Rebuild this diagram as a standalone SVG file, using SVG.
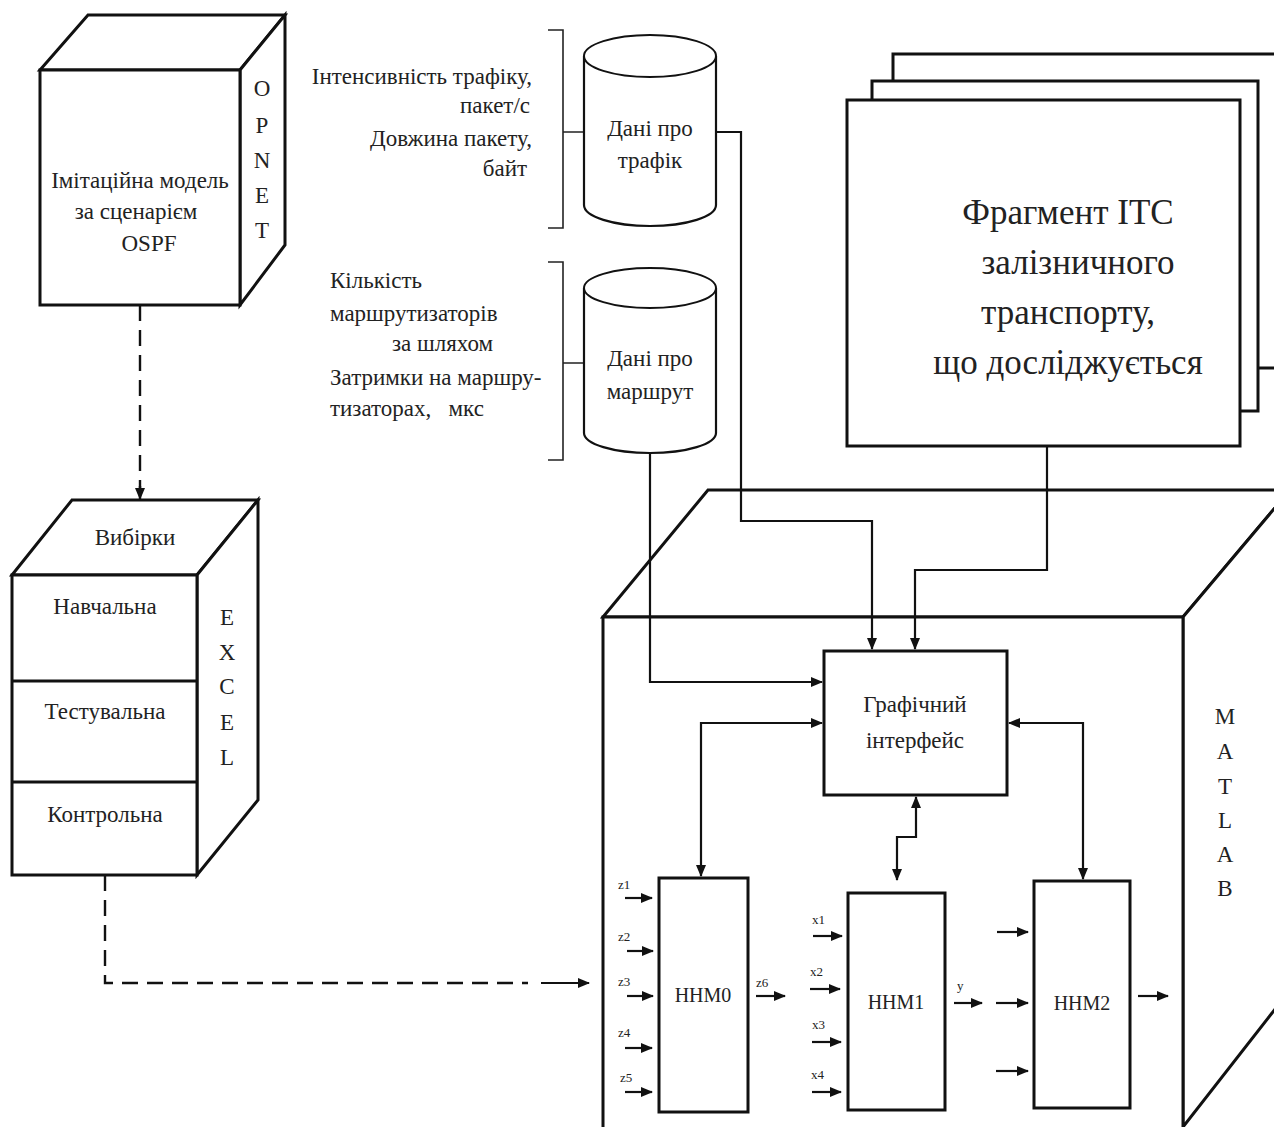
<svg xmlns="http://www.w3.org/2000/svg" width="1274" height="1127" viewBox="0 0 1274 1127">
<defs>
<marker id="ah" markerWidth="12" markerHeight="10" refX="11" refY="5" orient="auto-start-reverse" markerUnits="userSpaceOnUse"><path d="M0,0 L12,5 L0,10 z" fill="#111"/></marker>
</defs>
<style>
.box{fill:#fff;stroke:#111;stroke-width:3}
.thin{fill:none;stroke:#222;stroke-width:1.6}
.ln{fill:none;stroke:#111;stroke-width:2}
.ar{fill:none;stroke:#111;stroke-width:2.2;marker-end:url(#ah)}
.bi{fill:none;stroke:#111;stroke-width:2.2;marker-end:url(#ah);marker-start:url(#ah)}
.dash{fill:none;stroke:#111;stroke-width:2.4;stroke-dasharray:16 9}
text{font-family:"Liberation Serif","Times New Roman",serif;fill:#222}
.t20{font-size:23px}
.t22{font-size:23px}
.nn{font-size:20px}
.t13{font-size:13px}
.big{font-size:35px}
.mid{text-anchor:middle}
.end{text-anchor:end}
</style>
<rect width="1274" height="1127" fill="#fff"/>

<g id="opnet">
<path class="box" d="M40,70 L88,15 L285,15 L240,70 z"/>
<path class="box" d="M240,70 L285,15 L285,245 L240,305 z"/>
<rect class="box" x="40" y="70" width="200" height="235"/>
<text class="t20 mid" x="140" y="188">Імітаційна модель</text>
<text class="t20 mid" x="136" y="219">за сценарієм</text>
<text class="t20 mid" x="149" y="251">OSPF</text>
<text class="t22 mid" x="262" y="96">O</text>
<text class="t22 mid" x="262" y="133">P</text>
<text class="t22 mid" x="262" y="168">N</text>
<text class="t22 mid" x="262" y="203">E</text>
<text class="t22 mid" x="262" y="238">T</text>
</g>

<g id="excel">
<path class="box" d="M12,575 L72,500 L258,500 L197,575 z"/>
<path class="box" d="M197,575 L258,500 L258,800 L197,875 z"/>
<rect class="box" x="12" y="575" width="185" height="300"/>
<line class="box" x1="12" y1="681" x2="197" y2="681"/>
<line class="box" x1="12" y1="782" x2="197" y2="782"/>
<text class="t20 mid" x="135" y="545">Вибірки</text>
<text class="t20 mid" x="105" y="614">Навчальна</text>
<text class="t20 mid" x="105" y="719">Тестувальна</text>
<text class="t20 mid" x="105" y="822">Контрольна</text>
<text class="t22 mid" x="227" y="625">E</text>
<text class="t22 mid" x="227" y="660">X</text>
<text class="t22 mid" x="227" y="694">C</text>
<text class="t22 mid" x="227" y="730">E</text>
<text class="t22 mid" x="227" y="765">L</text>
</g>

<g id="traffic-labels">
<text class="t20 end" x="532" y="84">Інтенсивність трафіку,</text>
<text class="t20 end" x="530" y="113">пакет/с</text>
<text class="t20 end" x="532" y="146">Довжина пакету,</text>
<text class="t20 end" x="527" y="176">байт</text>
<path class="thin" d="M548,30 L563,30 L563,228 L548,228 M563,132 L585,132"/>
</g>

<g id="route-labels">
<text class="t20" x="330" y="288">Кількість</text>
<text class="t20" x="330" y="321">маршрутизаторів</text>
<text class="t20" x="392" y="351">за шляхом</text>
<text class="t20" x="330" y="385">Затримки на маршру-</text>
<text class="t20" x="330" y="416" xml:space="preserve">тизаторах,   мкс</text>
<path class="thin" d="M548,262 L563,262 L563,460 L548,460 M563,363 L585,363"/>
</g>

<g id="cyl-traffic">
<path class="box" style="stroke-width:2.2" d="M584,56 L584,205 A66,21 0 0 0 716,205 L716,56"/>
<ellipse class="box" style="stroke-width:2" cx="650" cy="56" rx="66" ry="21"/>
<text class="t20 mid" x="650" y="136">Дані про</text>
<text class="t20 mid" x="650" y="168">трафік</text>
</g>

<g id="cyl-route">
<path class="box" style="stroke-width:2.2" d="M584,288 L584,433 A66,20 0 0 0 716,433 L716,288"/>
<ellipse class="box" style="stroke-width:2" cx="650" cy="288" rx="66" ry="20"/>
<text class="t20 mid" x="650" y="366">Дані про</text>
<text class="t20 mid" x="650" y="399">маршрут</text>
</g>

<g id="itc">
<rect class="box" x="893" y="54" width="400" height="314"/>
<rect class="box" x="872" y="81" width="386" height="330"/>
<rect class="box" x="847" y="100" width="393" height="346"/>
<text class="big mid" x="1068" y="224">Фрагмент ІТС</text>
<text class="big mid" x="1078" y="274">залізничного</text>
<text class="big mid" x="1068" y="324">транспорту,</text>
<text class="big mid" x="1068" y="374">що досліджується</text>
</g>

<g id="matlab">
<path class="box" d="M603,617 L708,490 L1290,490 L1183,617 z"/>
<path class="box" d="M1183,617 L1290,490 L1290,990 L1183,1127 z"/>
<rect class="box" x="603" y="617" width="580" height="520"/>
<text class="t22 mid" x="1225" y="724">M</text>
<text class="t22 mid" x="1225" y="759">A</text>
<text class="t22 mid" x="1225" y="794">T</text>
<text class="t22 mid" x="1225" y="828">L</text>
<text class="t22 mid" x="1225" y="862">A</text>
<text class="t22 mid" x="1225" y="896">B</text>
</g>

<g id="gui">
<rect class="box" x="824" y="651" width="183" height="144"/>
<text class="t20 mid" x="915" y="712">Графічний</text>
<text class="t20 mid" x="915" y="748">інтерфейс</text>
</g>

<g id="hhm0">
<rect class="box" x="659" y="878" width="89" height="234"/>
<text class="nn mid" x="703" y="1002">ННМ0</text>
</g>
<g id="hhm1">
<rect class="box" x="848" y="893" width="97" height="217"/>
<text class="nn mid" x="896" y="1009">ННМ1</text>
</g>
<g id="hhm2">
<rect class="box" x="1034" y="881" width="96" height="227"/>
<text class="nn mid" x="1082" y="1010">ННМ2</text>
</g>

<g id="connectors">
<path class="dash" d="M140,305 L140,488"/>
<path class="ar" d="M140,486 L140,499" style="stroke-width:2.4"/>
<path class="dash" d="M105,875 L105,983 L528,983"/>
<path class="ar" d="M541,983 L589,983"/>
<path class="ar" d="M716,132 L741,132 L741,521 L872,521 L872,649"/>
<path class="ar" d="M1047,446 L1047,570 L915,570 L915,649"/>
<path class="ar" d="M650,453 L650,682 L822,682"/>
<path class="bi" d="M822,723 L701,723 L701,876"/>
<path class="bi" d="M1009,723 L1083,723 L1083,879"/>
<path class="bi" d="M916,797 L916,837 L897,837 L897,880"/>

<path class="ar" d="M625,898 L652,898"/>
<path class="ar" d="M627,951 L653,951"/>
<path class="ar" d="M627,996 L653,996"/>
<path class="ar" d="M625,1048 L652,1048"/>
<path class="ar" d="M625,1092 L652,1092"/>
<path class="ar" d="M756,996 L785,996"/>
<path class="ar" d="M813,936 L842,936"/>
<path class="ar" d="M810,989 L840,989"/>
<path class="ar" d="M812,1042 L841,1042"/>
<path class="ar" d="M812,1092 L841,1092"/>
<path class="ar" d="M954,1003 L982,1003"/>
<path class="ar" d="M997,932 L1028,932"/>
<path class="ar" d="M996,1003 L1028,1003"/>
<path class="ar" d="M996,1071 L1028,1071"/>
<path class="ar" d="M1138,996 L1168,996"/>
</g>

<g id="io-labels">
<text class="t13" x="618" y="889">z1</text>
<text class="t13" x="618" y="941">z2</text>
<text class="t13" x="618" y="986">z3</text>
<text class="t13" x="618" y="1037">z4</text>
<text class="t13" x="620" y="1082">z5</text>
<text class="t13" x="756" y="987">z6</text>
<text class="t13" x="812" y="924">x1</text>
<text class="t13" x="810" y="976">x2</text>
<text class="t13" x="812" y="1029">x3</text>
<text class="t13" x="811" y="1079">x4</text>
<text class="t13" x="957" y="990">y</text>
</g>
</svg>
